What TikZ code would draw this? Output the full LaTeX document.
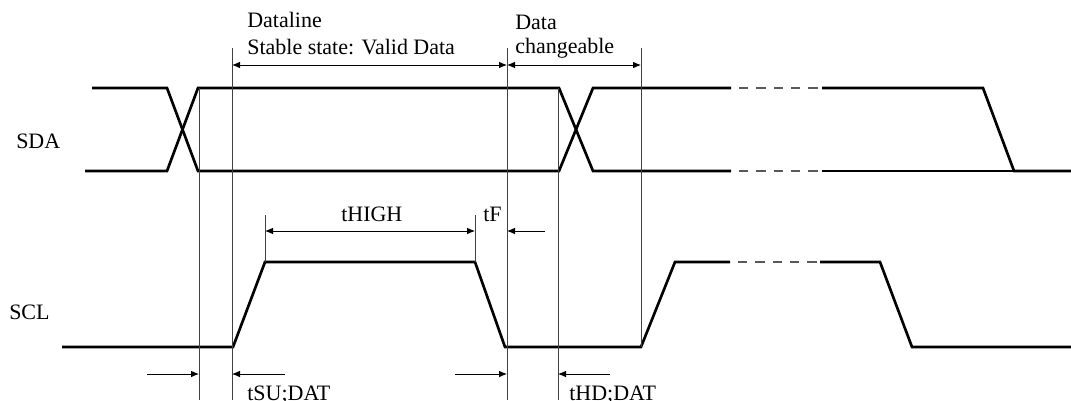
\documentclass[tikz,border=0pt]{standalone}
\usepackage{fontspec}
\setmainfont{Liberation Serif}
\usetikzlibrary{arrows.meta,positioning}

\begin{document}
\begin{tikzpicture}[x=0.75pt, y=-0.75pt,
    sig/.style={line width=2pt, line join=miter},
    gapline/.style={line width=1.4pt, black!65, dash pattern=on 7pt off 6pt, dash phase=7pt},
    guide/.style={line width=0.7pt, black!75},
    dimboth/.style={line width=0.7pt, {Latex[length=6pt,width=5pt]}-{Latex[length=6pt,width=5pt]}},
    dimto/.style={line width=0.7pt, -{Latex[length=6pt,width=5pt]}},
    lbl/.style={font=\fontsize{16.5}{18}\selectfont, inner sep=0pt, anchor=base west}]
    \useasboundingbox (0,0) rectangle (1071,400);

    \node[lbl] (sda) at (16,148) {SDA};
    \node[lbl] (scl) at (9,319) {SCL};

    % SDA
    \draw[sig] (92,88) -- (167,88) -- (198,171) -- (559,171) -- (593,88) -- (731,88);
    \draw[sig] (85,171) -- (167,171) -- (198,88) -- (559,88) -- (593,171) -- (731,171);
    \draw[gapline] (731,88) -- (822,88);
    \draw[gapline] (731,171) -- (822,171);
    \draw[sig] (822,88) -- (983,88) -- (1014,171) -- (1071,171);
    \draw[sig] (822,171) -- (1014,171);

    % SCL
    \draw[sig] (62,347) -- (233,347) -- (265,262) -- (475,262) -- (505,347)
        -- (641,347) -- (675,262) -- (730,262);
    \draw[gapline] (730,262) -- (820,262);
    \draw[sig] (820,262) -- (880,262) -- (912,347) -- (1071,347);

    % guides
    \draw[guide] (199,88) coordinate (g1) -- (199,400);
    \draw[guide] (232,48) coordinate (g2) -- (232,400);
    \draw[guide] (507,48) coordinate (g3) -- (507,400);
    \draw[guide] (558,88) coordinate (g4) -- (558,400);
    \draw[guide] (641,48) coordinate (g5) -- (641,347);
    \draw[guide] (265,215) coordinate (h1) -- (265,262);
    \draw[guide] (475,215) coordinate (h2) -- (475,262);

    % dimensions
    \draw[dimboth] (g2 |- 0,65) -- (g3 |- 0,65);
    \draw[dimboth] (g3 |- 0,65) -- (g5 |- 0,65);
    \draw[dimboth] (h1 |- 0,231) -- (h2 |- 0,231);
    \coordinate (tfout) at (545,231);
    \draw[dimto] (tfout) -- (g3 |- tfout);
    \coordinate (su1) at (147,374);
    \coordinate (su2) at (285,374);
    \coordinate (hd1) at (455,374);
    \coordinate (hd2) at (610,374);
    \draw[dimto] (su1) -- (g1 |- su1);
    \draw[dimto] (su2) -- (g2 |- su2);
    \draw[dimto] (hd1) -- (g3 |- hd1);
    \draw[dimto] (hd2) -- (g4 |- hd2);

    \node[lbl] (dl) at (247,27) {Dataline};
    \node[lbl] (stable) at (247,54) {Stable state: Valid Data};
    \node[lbl] (data) at (515,29) {Data};
    \node[lbl] (chg) at (515,53) {changeable};
    \node[lbl] (thigh) at (341,221) {tHIGH};
    \node[lbl] (tf) at (483,221) {tF};
    \node[lbl] (tsu) at (247,400) {tSU;DAT};
    \node[lbl] (thd) at (569,400) {tHD;DAT};
\end{tikzpicture}
\end{document}
